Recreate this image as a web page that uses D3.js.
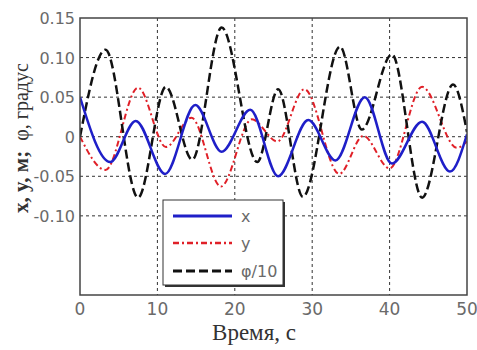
<!DOCTYPE html>
<html>
<head>
<meta charset="utf-8">
<script src="https://cdn.jsdelivr.net/npm/d3@7"></script>
<style>
  body { margin: 0; background: #fff; }
</style>
</head>
<body>
<div id="chart"></div>
<script>
// series key points (time, value)
var xTimes = [0, 3.9, 7.2, 11, 14.9, 18.3, 22, 25.6, 29.5, 33, 36.8, 40.3, 44.2, 47.8, 50];
var xVals  = [0.05, -0.032, 0.02, -0.047, 0.04, -0.019, 0.034, -0.05, 0.021, -0.03, 0.05, -0.034, 0.019, -0.044, 0.003];

var yTimes = [0, 3.3, 7.5, 11.1, 14.4, 18.2, 22.2, 25.5, 29, 33.5, 36.6, 40, 44.2, 48.7, 50];
var yVals  = [0.0, -0.042, 0.062, -0.013, 0.024, -0.063, 0.022, -0.006, 0.06, -0.047, 0.001, -0.04, 0.063, -0.014, -0.006];

var phiTimes = [0, 3.3, 7.5, 11.1, 14.5, 18.3, 22.9, 25.6, 28.8, 33.6, 36.4, 40.3, 44.2, 48.2, 50];
var phiVals  = [0.0, 0.11, -0.077, 0.063, -0.029, 0.138, -0.032, 0.06, -0.076, 0.114, 0.009, 0.104, -0.077, 0.066, 0.006];

var xTicks = [0, 10, 20, 30, 40, 50];
var yTicks = [0.15, 0.10, 0.05, 0, -0.05, -0.10];
var yTickLabels = ["0.15", "0.10", "0.05", "0", "-0.05", "-0.10"];
var legendNames = ["x", "y", "\u03c6/10"];

var W = 477, H = 350;
var pLeft = 80, pRight = 467, pTop = 18, pBottom = 295;

var svg = d3.select("#chart").append("svg")
  .attr("width", W).attr("height", H);

var x = d3.scaleLinear().domain([0, 50]).range([pLeft, pRight]);
var y = d3.scaleLinear().domain([-0.2, 0.15]).range([pBottom, pTop]);

// grid
svg.append("g").selectAll("line")
  .data(xTicks.slice(1, -1))
  .enter().append("line")
  .attr("x1", function(d) { return x(d); })
  .attr("x2", function(d) { return x(d); })
  .attr("y1", pTop).attr("y2", pBottom)
  .attr("stroke", "#333").attr("stroke-width", 1)
  .attr("stroke-dasharray", "3,3");

svg.append("g").selectAll("line")
  .data(yTicks.slice(1))
  .enter().append("line")
  .attr("x1", pLeft).attr("x2", pRight)
  .attr("y1", function(d) { return y(d); })
  .attr("y2", function(d) { return y(d); })
  .attr("stroke", "#333").attr("stroke-width", 1)
  .attr("stroke-dasharray", "3,3");

// tick labels
svg.append("g").selectAll("text")
  .data(xTicks)
  .enter().append("text")
  .attr("x", function(d) { return x(d); })
  .attr("y", 315)
  .attr("text-anchor", "middle")
  .attr("font-family", "DejaVu Sans, sans-serif")
  .attr("font-size", 17)
  .attr("fill", "#6a6a6a")
  .text(function(d) { return d; });

svg.append("g").selectAll("text")
  .data(yTicks)
  .enter().append("text")
  .attr("x", 75)
  .attr("y", function(d) { return y(d) + 6; })
  .attr("text-anchor", "end")
  .attr("font-family", "DejaVu Sans, sans-serif")
  .attr("font-size", 16)
  .attr("fill", "#6a6a6a")
  .text(function(d, i) { return yTickLabels[i]; });

// lines
function pts(ts, vs) { return ts.map(function(t, i) { return [t, vs[i]]; }); }
var line = d3.line()
  .curve(d3.curveMonotoneX)
  .x(function(d) { return x(d[0]); })
  .y(function(d) { return y(d[1]); });

var series = [
  { data: pts(xTimes, xVals), color: "#1f1fc8", dash: null, w: 2.5 },
  { data: pts(yTimes, yVals), color: "#e02028", dash: "6,3,2,3", w: 2 },
  { data: pts(phiTimes, phiVals), color: "#111", dash: "9,4", w: 2.5 }
];

svg.append("clipPath").attr("id", "clip")
  .append("rect").attr("x", pLeft).attr("y", pTop)
  .attr("width", pRight - pLeft).attr("height", pBottom - pTop);

svg.append("g").attr("clip-path", "url(#clip)")
  .selectAll("path")
  .data([series[1], series[2], series[0]])
  .enter().append("path")
  .attr("fill", "none")
  .attr("stroke", function(d) { return d.color; })
  .attr("stroke-width", function(d) { return d.w; })
  .attr("stroke-dasharray", function(d) { return d.dash; })
  .attr("d", function(d) { return line(d.data); });

// frame
svg.append("rect")
  .attr("x", pLeft).attr("y", pTop)
  .attr("width", pRight - pLeft).attr("height", pBottom - pTop)
  .attr("fill", "none").attr("stroke", "#444").attr("stroke-width", 1.5);

// legend
var lg = svg.append("g");
lg.append("rect")
  .attr("x", 165).attr("y", 202).attr("width", 120).attr("height", 85)
  .attr("fill", "#333");
lg.append("rect")
  .attr("x", 163).attr("y", 200).attr("width", 120).attr("height", 85)
  .attr("fill", "#fff").attr("stroke", "#333").attr("stroke-width", 1);

var ly = [216, 243, 271];
lg.selectAll("line")
  .data(series)
  .enter().append("line")
  .attr("x1", 173).attr("x2", 232)
  .attr("y1", function(d, i) { return ly[i]; })
  .attr("y2", function(d, i) { return ly[i]; })
  .attr("stroke", function(d) { return d.color; })
  .attr("stroke-width", function(d) { return d.w + 0.5; })
  .attr("stroke-dasharray", function(d) { return d.dash; });

lg.selectAll("text")
  .data(legendNames)
  .enter().append("text")
  .attr("x", 241)
  .attr("y", function(d, i) { return ly[i] + 6; })
  .attr("font-family", "DejaVu Sans, sans-serif")
  .attr("font-size", 16)
  .attr("fill", "#6a6a6a")
  .text(function(d) { return d; });

// axis titles
svg.append("text")
  .attr("x", 254).attr("y", 340)
  .attr("text-anchor", "middle")
  .attr("font-family", "Liberation Serif, serif")
  .attr("font-size", 23)
  .attr("fill", "#333")
  .text("Время, с");

var yt = svg.append("text")
  .attr("transform", "translate(28,213) rotate(-90)")
  .attr("font-family", "Liberation Serif, serif")
  .attr("fill", "#333");
yt.append("tspan").attr("font-size", 21).attr("font-weight", "bold").text("x, y, м;");
yt.append("tspan").attr("dx", 10).attr("font-size", 20).text("\u03c6, градус");
</script>
</body>
</html>
